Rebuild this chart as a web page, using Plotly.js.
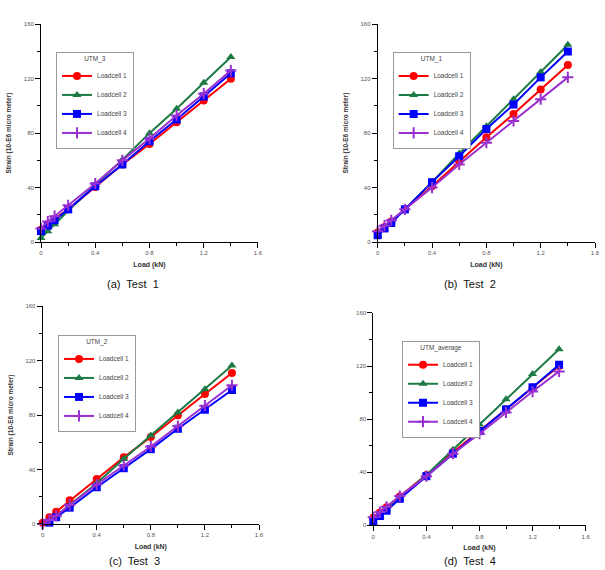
<!DOCTYPE html>
<html><head><meta charset="utf-8">
<script src="https://cdn.plot.ly/plotly-3.0.1.min.js"></script>
<style>body{margin:0;background:#fff;} #chart{width:605px;height:570px;}</style>
</head><body><div id="chart"></div>
<script>
// Data
const load = [0, 0.05, 0.1, 0.2, 0.4, 0.6, 0.8, 1.0, 1.2, 1.4];
const seriesNames = ['Loadcell 1', 'Loadcell 2', 'Loadcell 3', 'Loadcell 4'];
const panelTitles = ['UTM_3', 'UTM_1', 'UTM_2', 'UTM_average'];
const captions = ['(a)  Test  1', '(b)  Test  2', '(c)  Test  3', '(d)  Test  4'];
const xTicks = [0, 0.4, 0.8, 1.2, 1.6];
const xTickText = ['0', '0.4', '0.8', '1.2', '1.6'];
const yTicks = [0, 40, 80, 120, 160];
const xTitle = 'Load (kN)';
const yTitles = ['Strain (10-E6 micro meter)', 'Strain (10-E6 micro meter)', 'Strain (10-E6 micro meter)', ''];

// Test 1 (UTM_3)
const test1_lc1 = [9, 13, 17, 24, 40.5, 57, 72, 88, 104, 120];
const test1_lc2 = [3, 8, 13, 23, 42, 60.5, 80, 98, 117, 136];
const test1_lc3 = [8, 12, 16, 24, 41, 57, 74, 90, 107, 124];
const test1_lc4 = [10, 15, 19, 27, 43, 60, 76, 93, 109, 126];
// Test 2 (UTM_1)
const test2_lc1 = [7, 11, 15, 24, 41, 59, 77, 94, 112, 130];
const test2_lc2 = [5, 10, 15, 24, 44, 65, 85, 105, 125, 145];
const test2_lc3 = [5, 10, 14, 24, 44, 63, 83, 101, 121, 140];
const test2_lc4 = [8, 12, 16, 24, 40, 57, 73, 89, 105, 121];
// Test 3 (UTM_2)
const test3_lc1 = [1, 5, 9, 17.5, 33, 49, 64, 80, 95.5, 111];
const test3_lc2 = [-3, 2, 6, 14, 30, 48, 65, 82, 99, 116.5];
const test3_lc3 = [-3, 1, 5, 12, 27, 41, 55, 70, 84, 98.5];
const test3_lc4 = [0, 3, 6, 14, 29, 43, 57, 72, 87, 102];
// Test 4 (UTM_average)
const test4_lc1 = [5.7, 9.7, 13.7, 21.8, 38, 55, 71, 87.3, 103.9, 120];
const test4_lc2 = [2, 7, 12, 21, 38, 57, 76, 95, 114, 132.7];
const test4_lc3 = [3, 7, 11, 20, 37, 54, 71, 87.4, 104, 121];
const test4_lc4 = [6, 10, 14, 22, 37, 54, 69, 85, 100.8, 116];

const panels = [
  [test1_lc1, test1_lc2, test1_lc3, test1_lc4],
  [test2_lc1, test2_lc2, test2_lc3, test2_lc4],
  [test3_lc1, test3_lc2, test3_lc3, test3_lc4],
  [test4_lc1, test4_lc2, test4_lc3, test4_lc4]
];

// styles
const colors = ['#ff0000', '#1d7a45', '#0000ff', '#9a30d0'];
const symbols = ['circle', 'triangle-up', 'square', 'cross-thin'];
const msizes = [8, 8, 8, 8];
const FONT = 'Liberation Sans, Arial, sans-serif';

const domains = [
  {x: [0.0678, 0.4264], y: [0.5754, 0.9574]},
  {x: [0.6243, 0.9835], y: [0.5754, 0.9574]},
  {x: [0.0705, 0.4281], y: [0.0807, 0.4626]},
  {x: [0.6170, 0.9680], y: [0.0784, 0.4509]}
];
const legendPos = [
  {x: 0.0926, y: 0.9088},
  {x: 0.6490, y: 0.9088},
  {x: 0.0959, y: 0.4123},
  {x: 0.6645, y: 0.4023}
];
const captionPos = [
  {x: 0.220, y: 0.5018, anchor: 'middle'},
  {x: 0.777, y: 0.5018, anchor: 'middle'},
  {x: 0.223, y: 0.001, anchor: 'bottom'},
  {x: 0.777, y: 0.001, anchor: 'bottom'}
];

const traces = [];
const layout = {
  width: 605, height: 570,
  margin: {l: 0, r: 0, t: 0, b: 0},
  paper_bgcolor: '#fff', plot_bgcolor: '#fff',
  font: {family: FONT, color: '#333'},
  showlegend: true,
  annotations: []
};

panels.forEach((series, p) => {
  const n = p + 1;
  const xa = 'xaxis' + (n === 1 ? '' : n);
  const ya = 'yaxis' + (n === 1 ? '' : n);
  const lg = 'legend' + (n === 1 ? '' : n);
  series.forEach((vals, i) => {
    traces.push({
      type: 'scatter', mode: 'lines+markers',
      x: load, y: vals, name: seriesNames[i],
      xaxis: 'x' + (n === 1 ? '' : n), yaxis: 'y' + (n === 1 ? '' : n),
      legend: lg,
      cliponaxis: false,
      line: {color: colors[i], width: 2},
      marker: {symbol: symbols[i], size: msizes[i], color: colors[i],
               line: {color: colors[i], width: symbols[i] === 'cross-thin' ? 2 : 0}}
    });
  });
  layout[xa] = {
    domain: domains[p].x, anchor: 'y' + (n === 1 ? '' : n),
    range: [0, 1.6], showgrid: false, zeroline: false,
    showline: true, linecolor: '#000', linewidth: 1,
    ticks: 'outside', ticklen: 5, tickcolor: '#000', tickwidth: 1,
    tickvals: xTicks, ticktext: xTickText,
    minor: {tickvals: [0.2, 0.6, 1.0, 1.4], ticks: 'outside', ticklen: 3, tickcolor: '#000'},
    tickfont: {size: 6, color: '#555', family: FONT},
    title: {text: '<b>' + xTitle + '</b>', font: {size: 7, color: '#333', family: FONT}, standoff: 6}
  };
  layout[ya] = {
    domain: domains[p].y, anchor: 'x' + (n === 1 ? '' : n),
    range: [0, 160], showgrid: false, zeroline: false,
    showline: true, linecolor: '#000', linewidth: 1,
    ticks: 'outside', ticklen: 5, tickcolor: '#000', tickwidth: 1,
    tickvals: yTicks,
    minor: {tickvals: [20, 60, 100, 140], ticks: 'outside', ticklen: 3, tickcolor: '#000'},
    tickfont: {size: 6, color: '#555', family: FONT},
    title: {text: yTitles[p] ? '<b>' + yTitles[p] + '</b>' : '', font: {size: 6.5, color: '#333', family: FONT}, standoff: 11}
  };
  layout[lg] = {
    x: legendPos[p].x, y: legendPos[p].y, xanchor: 'left', yanchor: 'top',
    xref: 'paper', yref: 'paper',
    bgcolor: '#fff', bordercolor: '#999', borderwidth: 1,
    font: {size: 6.5, color: '#444', family: FONT},
    title: {text: panelTitles[p], side: 'top center', font: {size: 6.5, color: '#444', family: FONT}},
    tracegroupgap: 0, itemwidth: 30
  };
  layout.annotations.push({
    xref: 'paper', yref: 'paper', x: captionPos[p].x, y: captionPos[p].y,
    xanchor: 'center', yanchor: captionPos[p].anchor, showarrow: false,
    text: captions[p], font: {size: 11, color: '#111', family: FONT}
  });
});

Plotly.newPlot('chart', traces, layout, {displayModeBar: false, staticPlot: true});
</script>
</body></html>
